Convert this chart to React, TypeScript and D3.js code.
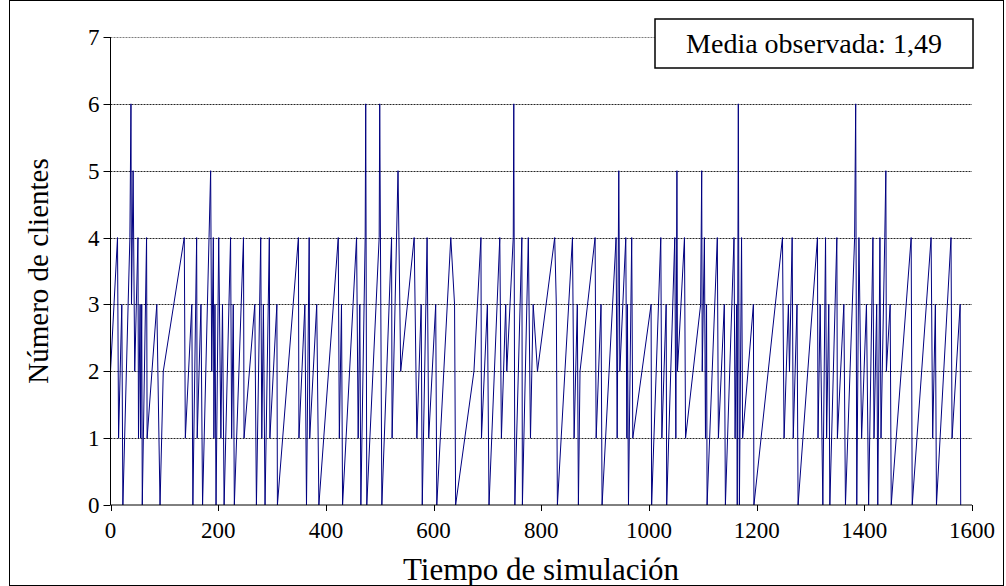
import React from "react";
import * as d3 from "d3";

const tiempos: number[] = [
  0, 13, 15, 21, 23, 36, 38, 39, 42, 45, 51, 52, 55, 56, 58, 59, 67, 68, 86, 92, 98,
  137, 139, 151, 153, 160, 161, 168, 171, 183, 186, 188, 191, 192, 194, 196, 201, 205,
  208, 211, 223, 225, 228, 230, 247, 248,
  268, 271, 279, 281, 284, 287, 295, 296, 309, 310, 349, 350, 361, 364, 369, 370, 383,
  387, 423, 425, 429, 431, 457, 460, 463, 465, 473, 474, 476, 499, 500, 504, 522, 523,
  534, 539,
  564, 569, 577, 579, 588, 591, 604, 606, 632, 639, 641, 675, 688, 689, 700, 703, 723,
  726, 734, 736, 748, 749, 751, 764, 765, 776, 780, 785, 793,
  825, 828, 830, 858, 861, 867, 869, 872, 900, 902, 911, 913, 939, 941, 944, 946, 957,
  959, 960, 962, 968, 970, 1004, 1005, 1022, 1024, 1032, 1033, 1048, 1050, 1052, 1053,
  1066, 1068,
  1096, 1098, 1099, 1103, 1105, 1107, 1108, 1127, 1129, 1140, 1142, 1158, 1160, 1163,
  1164, 1166, 1168, 1172, 1174, 1194, 1195, 1248, 1251, 1259, 1261, 1266, 1268, 1275,
  1277, 1313, 1314, 1318, 1323, 1328, 1330, 1334, 1336,
  1349, 1350, 1362, 1365, 1382, 1384, 1386, 1390, 1395, 1404, 1408, 1416, 1418, 1423,
  1425, 1429, 1431, 1438, 1440, 1441, 1448, 1450, 1487, 1489, 1524, 1527, 1532, 1534,
  1561, 1563, 1578, 1579,
];

const clientes: number[] = [
  2, 4, 1, 3, 0, 4, 6, 3, 5, 2, 4, 1, 3, 1, 3, 0, 4, 1, 3, 0, 2,
  4, 1, 3, 0, 4, 1, 3, 0, 4, 5, 2, 4, 1, 3, 0, 4, 1,
  3, 0, 4, 1, 3, 0, 4, 1,
  3, 0, 4, 1, 3, 0, 4, 1, 3, 0, 4, 1, 3, 0, 4, 1, 3,
  0, 4, 1, 3, 0, 4, 1, 3, 0, 4, 6, 0, 4, 6, 0, 4, 1,
  5, 2,
  4, 1, 3, 0, 4, 1, 3, 0, 4, 3, 0, 2, 4, 1, 3, 0, 4,
  1, 3, 2, 4, 6, 0, 4, 0, 4, 1, 3, 2,
  4, 3, 0, 4, 1, 3, 0, 2, 4, 1, 3, 0, 4, 1, 5, 2, 4,
  1, 3, 0, 4, 1, 3, 0, 4, 1, 3, 0, 4, 1, 5, 2,
  4, 1,
  3, 5, 2, 4, 1, 3, 0, 4, 1, 3, 0, 4, 1, 3,
  0, 6, 0, 4, 1, 3, 0, 4, 1, 3, 2, 4, 1, 3,
  0, 4, 1, 3, 0, 4, 1, 3, 0,
  4, 1, 3, 0, 4, 6, 0, 4, 1, 3, 0, 4, 1, 3,
  0, 4, 1, 4, 5, 2, 3, 0, 4, 0, 4, 1, 3, 0,
  4, 1, 3, 0,
];

const xTicks: number[] = [0, 200, 400, 600, 800, 1000, 1200, 1400, 1600];
const yTicks: number[] = [0, 1, 2, 3, 4, 5, 6, 7];

const tituloX = "Tiempo de simulación";
const tituloY = "Número de clientes";
const leyenda = "Media observada: 1,49";

const FONT = "'Liberation Serif', 'DejaVu Serif', serif";

export default function App() {
  const W = 1006;
  const H = 586;
  const left = 110.5;
  const right = 972;
  const top = 37;
  const bottom = 505;
  const x = d3.scaleLinear().domain([0, 1600]).range([left, right]);
  const y = d3.scaleLinear().domain([0, 7]).range([bottom, top]);
  const pts: [number, number][] = tiempos.map((t, i) => [t, clientes[i]]);
  const line = d3
    .line<[number, number]>()
    .x((d) => x(d[0]))
    .y((d) => y(d[1]));
  const ts = { fontFamily: FONT } as React.CSSProperties;

  return (
    <svg
      width={W}
      height={H}
      style={{ position: "absolute", left: 0, top: 0, background: "#fff", fontFamily: FONT }}
    >
      <rect x={9.5} y={0.5} width={994} height={585} fill="#fff" stroke="#000" strokeWidth={1} />
      {yTicks
        .filter((v) => v > 0)
        .map((v) => (
          <line
            key={"g" + v}
            x1={left}
            x2={right}
            y1={Math.round(y(v)) + 0.5}
            y2={Math.round(y(v)) + 0.5}
            stroke="#000"
            strokeWidth={1}
            strokeDasharray="2,1"
            opacity={v === 7 ? 0.5 : 0.85}
          />
        ))}
      <path d={line(pts) || ""} fill="none" stroke="#000080" strokeWidth={1} />
      <line x1={left} x2={left} y1={top} y2={bottom} stroke="#000" strokeWidth={1} />
      <line x1={left} x2={right} y1={bottom} y2={bottom} stroke="#000" strokeWidth={1} />
      {yTicks.map((v) => (
        <g key={"y" + v}>
          <line x1={left - 7} x2={left} y1={Math.round(y(v)) + 0.5} y2={Math.round(y(v)) + 0.5} stroke="#000" />
          <text style={ts} x={left - 11} y={y(v)} dy="0.35em" textAnchor="end" fontSize={23} fill="#000">
            {v}
          </text>
        </g>
      ))}
      {xTicks.map((v) => (
        <g key={"x" + v}>
          <line x1={Math.round(x(v)) + 0.5} x2={Math.round(x(v)) + 0.5} y1={bottom} y2={bottom + 6} stroke="#000" />
          <text style={ts} x={x(v)} y={bottom + 33} textAnchor="middle" fontSize={23} fill="#000">
            {v}
          </text>
        </g>
      ))}
      <text style={ts} x={541} y={580} textAnchor="middle" fontSize={31} fill="#000">
        {tituloX}
      </text>
      <text
        style={ts}
        transform={`translate(48, ${(top + bottom) / 2}) rotate(-90)`}
        textAnchor="middle"
        fontSize={29}
        fill="#000"
      >
        {tituloY}
      </text>
      <rect x={655} y={19} width={318} height={49} fill="#fff" stroke="#000" strokeWidth={1.5} />
      <text style={ts} x={814} y={53} textAnchor="middle" fontSize={28} fill="#000">
        {leyenda}
      </text>
    </svg>
  );
}
